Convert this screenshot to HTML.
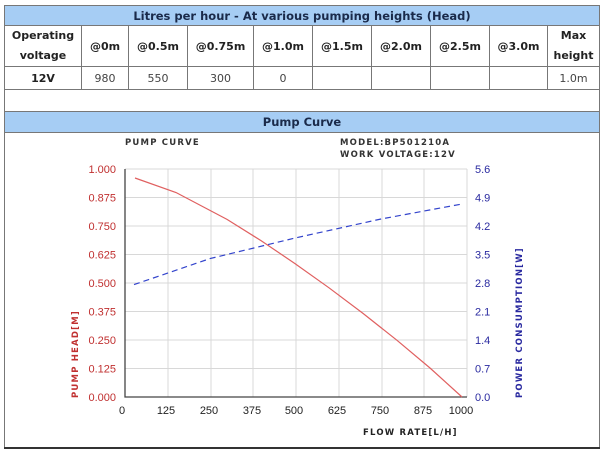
<!DOCTYPE html>
<html><head><meta charset="utf-8"><style>
body{margin:0;width:604px;height:454px;background:#fff;position:relative;overflow:hidden;font-family:"DejaVu Sans","Liberation Sans",sans-serif}
table{position:absolute;left:4px;top:5px;width:596px;border-collapse:collapse;font-size:11px;color:#222}
td{border:1px solid #777;text-align:center;padding:0}
.h{background:#a6cdf4;font-weight:bold;color:#1a2a4a;height:19px;font-size:11.5px}
.b{font-weight:bold}
</style></head><body>
<table>
<tr><td colspan="10" class="h">Litres per hour - At various pumping heights (Head)</td></tr>
<tr style="height:41px" class="b"><td style="width:76px;line-height:20px">Operating<br>voltage</td><td style="width:46px">@0m</td><td style="width:58px">@0.5m</td><td style="width:65px">@0.75m</td><td style="width:58px">@1.0m</td><td style="width:58px">@1.5m</td><td style="width:58px">@2.0m</td><td style="width:58px">@2.5m</td><td style="width:57px">@3.0m</td><td style="line-height:20px">Max<br>height</td></tr>
<tr style="height:23px;color:#444"><td class="b" style="color:#222">12V</td><td>980</td><td>550</td><td>300</td><td>0</td><td></td><td></td><td></td><td></td><td>1.0m</td></tr>
<tr style="height:22px"><td colspan="10"></td></tr>
<tr><td colspan="10" class="h" style="height:20px">Pump Curve</td></tr>
<tr style="height:315px"><td colspan="10" style="border-bottom:2px solid #333"></td></tr>
</table>
<svg style="position:absolute;left:0;top:0" width="604" height="454" font-family="Liberation Sans, sans-serif">
<g stroke="#d8d8d8" stroke-width="1">
<line x1="168" y1="169" x2="168" y2="397"/><line x1="211" y1="169" x2="211" y2="397"/><line x1="253" y1="169" x2="253" y2="397"/><line x1="296" y1="169" x2="296" y2="397"/><line x1="339" y1="169" x2="339" y2="397"/><line x1="382" y1="169" x2="382" y2="397"/><line x1="424" y1="169" x2="424" y2="397"/><line x1="467" y1="169" x2="467" y2="397"/>
<line x1="125" y1="169" x2="467" y2="169"/><line x1="125" y1="197.5" x2="467" y2="197.5"/><line x1="125" y1="226" x2="467" y2="226"/><line x1="125" y1="254.5" x2="467" y2="254.5"/><line x1="125" y1="283" x2="467" y2="283"/><line x1="125" y1="311.5" x2="467" y2="311.5"/><line x1="125" y1="340" x2="467" y2="340"/><line x1="125" y1="368.5" x2="467" y2="368.5"/>
</g>
<path d="M125 169V397H467" fill="none" stroke="#444" stroke-width="1.3"/>
<polyline points="135,178 176,192.5 227,219.4 261,240.6 295,263.6 329,287.8 363,313.4 397,340.3 430,368 462,397" fill="none" stroke="#e06060" stroke-width="1.2"/>
<polyline points="134,284.6 210,258.6 296,237.8 381,219 462,204" fill="none" stroke="#3344cc" stroke-width="1.2" stroke-dasharray="6,4"/>
<g fill="#c03030" font-size="11" text-anchor="end">
<text x="116" y="173">1.000</text><text x="116" y="201.5">0.875</text><text x="116" y="230">0.750</text><text x="116" y="258.5">0.625</text><text x="116" y="287">0.500</text><text x="116" y="315.5">0.375</text><text x="116" y="344">0.250</text><text x="116" y="372.5">0.125</text><text x="116" y="401">0.000</text></g>
<g fill="#2a2aa0" font-size="11">
<text x="475" y="173">5.6</text><text x="475" y="201.5">4.9</text><text x="475" y="230">4.2</text><text x="475" y="258.5">3.5</text><text x="475" y="287">2.8</text><text x="475" y="315.5">2.1</text><text x="475" y="344">1.4</text><text x="475" y="372.5">0.7</text><text x="475" y="401">0.0</text></g>
<g fill="#222" font-size="11" text-anchor="middle">
<text x="122" y="414">0</text><text x="166" y="414">125</text><text x="209" y="414">250</text><text x="252" y="414">375</text><text x="294" y="414">500</text><text x="337" y="414">625</text><text x="380" y="414">750</text><text x="423" y="414">875</text><text x="461" y="414">1000</text></g>
<g font-family="DejaVu Sans, sans-serif" font-weight="bold" font-size="8.5" letter-spacing="1.2">
<text x="125" y="145" fill="#333">PUMP CURVE</text>
<text x="340" y="145" fill="#333">MODEL:BP501210A</text>
<text x="340" y="157" fill="#333">WORK VOLTAGE:12V</text>
<text x="363" y="435" fill="#222">FLOW RATE[L/H]</text>
<text transform="translate(78,398) rotate(-90)" fill="#c03030">PUMP HEAD[M]</text>
<text transform="translate(522,398) rotate(-90)" fill="#2a2aa0">POWER CONSUMPTION[W]</text>
</g>
</svg>
</body></html>
